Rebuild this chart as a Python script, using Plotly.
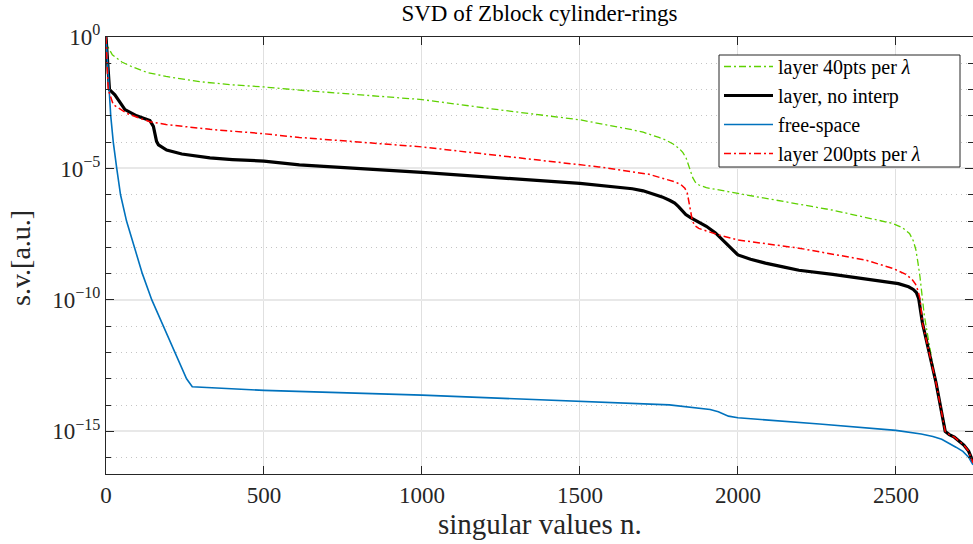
import plotly.graph_objects as go

# ---- data; singular values given as log10 exponents ----
n_green = [0, 5, 20, 50, 84, 130, 190, 296, 400, 500, 612, 800, 1000, 1245, 1500, 1666, 1700,
           1750, 1772, 1795, 1814, 1826, 1836, 1843, 1850, 1857, 1865, 1877, 1900, 1950, 2000,
           2298, 2400, 2490, 2520, 2543, 2555, 2563, 2570, 2576, 2590, 2611, 2632, 2659, 2669,
           2685, 2701, 2715, 2730, 2744]
log_green = [0.0, -0.35, -0.68, -0.95, -1.14, -1.35, -1.5, -1.7, -1.82, -1.9, -2.02, -2.2,
             -2.38, -2.77, -3.15, -3.53, -3.62, -3.82, -3.92, -4.07, -4.24, -4.4, -4.6, -4.85,
             -5.12, -5.35, -5.52, -5.63, -5.73, -5.85, -5.95, -6.58, -6.85, -7.09, -7.25,
             -7.47, -7.75, -8.08, -8.6, -9.1, -10.6, -12.15, -13.55, -15.04, -15.12, -15.22,
             -15.38, -15.52, -15.75, -16.15]

n_black = [0, 3, 5, 11, 28, 60, 97, 120, 139, 150, 155, 160, 166, 192, 240, 329, 400, 500, 612,
           1000, 1500, 1600, 1666, 1700, 1730, 1760, 1785, 1800, 1812, 1822, 1835, 1850, 1876,
           1900, 1929, 1950, 1971, 1985, 2000, 2040, 2087, 2150, 2193, 2300, 2403, 2508, 2540,
           2555, 2565, 2572, 2584, 2600, 2627, 2656, 2669, 2685, 2701, 2715, 2730, 2744]
log_black = [0.0, -0.6, -1.25, -2.0, -2.2, -2.76, -3.0, -3.1, -3.18, -3.4, -3.75, -3.97, -4.1,
             -4.3, -4.45, -4.6, -4.66, -4.72, -4.86, -5.15, -5.57, -5.68, -5.77, -5.85,
             -5.95, -6.08, -6.22, -6.32, -6.45, -6.6, -6.75, -6.87, -7.05, -7.2, -7.45, -7.7,
             -7.98, -8.15, -8.29, -8.45, -8.6, -8.76, -8.87, -9.03, -9.19, -9.38, -9.5, -9.6,
             -9.72, -9.94, -10.88, -11.77, -13.15, -15.0, -15.12, -15.22, -15.38, -15.52,
             -15.75, -16.15]

n_blue = [0, 4, 10, 15, 23, 34, 46, 65, 90, 115, 145, 182, 218, 255, 273, 500, 1000, 1500,
          1783, 1912, 1938, 1970, 2000, 2258, 2500, 2580, 2617, 2645, 2669, 2690, 2712, 2730,
          2744]
log_blue = [0.0, -1.0, -2.0, -3.0, -4.0, -5.0, -6.0, -7.0, -8.0, -9.0, -10.0, -11.0, -12.0,
            -13.0, -13.3, -13.44, -13.62, -13.86, -13.99, -14.17, -14.25, -14.42, -14.48,
            -14.72, -14.96, -15.1, -15.19, -15.3, -15.45, -15.6, -15.76, -15.98, -16.27]

n_red = [0, 5, 7, 23, 65, 105, 139, 190, 329, 500, 612, 1000, 1500, 1560, 1718, 1803, 1820,
         1832, 1840, 1846, 1851, 1856, 1864, 1876, 1940, 2000, 2193, 2403, 2490, 2530, 2550,
         2562, 2570, 2577, 2584, 2600, 2627, 2656, 2669, 2685, 2701, 2715, 2730, 2744]
log_red = [0.0, -1.5, -2.0, -2.57, -2.9, -3.08, -3.22, -3.33, -3.51, -3.68, -3.82, -4.18,
           -4.88, -4.94, -5.22, -5.52, -5.62, -5.75, -5.95, -6.3, -6.7, -7.0, -7.18, -7.28,
           -7.53, -7.72, -8.03, -8.48, -8.8, -9.02, -9.2, -9.4, -9.65, -10.0, -10.88, -11.77,
           -13.15, -15.0, -15.12, -15.22, -15.38, -15.52, -15.75, -16.2]

x_ticks = [0, 500, 1000, 1500, 2000, 2500]
y_major = [1e0, 1e-5, 1e-10, 1e-15]
y_major_text = ["10<sup>0</sup>", "10<sup>−5</sup>", "10<sup>−10</sup>", "10<sup>−15</sup>"]
y_minor = [10.0 ** (-k) for k in range(1, 17) if k % 5 != 0]

names = ["layer 40pts per <i>λ</i>", "layer, no interp", "free-space",
         "layer 200pts per <i>λ</i>"]
title_text = "SVD of Zblock cylinder-rings"
x_title = "singular values n."
y_title = "s.v.[a.u.]"


def to_sv(logs):
    return [10.0 ** v for v in logs]


FONT = "Liberation Serif"
AXC = "#262626"

# plot-area geometry in pixels (for paper-coordinate placement)
L, T, W, H = 106, 37, 867, 437


def px_x(p):
    return (p - L) / W


def px_y(p):
    return (T + H - p) / H


fig = go.Figure()
fig.add_trace(go.Scatter(x=n_green, y=to_sv(log_green), mode="lines", name=names[0],
                         line=dict(color="#5ed100", width=1.3, dash="7px,3px,2px,3px")))
fig.add_trace(go.Scatter(x=n_black, y=to_sv(log_black), mode="lines", name=names[1],
                         line=dict(color="#000000", width=3.2)))
fig.add_trace(go.Scatter(x=n_blue, y=to_sv(log_blue), mode="lines", name=names[2],
                         line=dict(color="#0072BD", width=1.6)))
fig.add_trace(go.Scatter(x=n_red, y=to_sv(log_red), mode="lines", name=names[3],
                         line=dict(color="#ff0000", width=1.5, dash="7px,3px,2px,3px")))

fig.update_layout(
    width=973, height=544,
    margin=dict(l=L, r=973 - L - W, t=T, b=544 - T - H),
    paper_bgcolor="white", plot_bgcolor="white",
    font=dict(family=FONT, color=AXC, size=23),
    title=dict(text=title_text, x=0.5, xref="paper", xanchor="center",
               y=1 - 13 / 544, yref="container", yanchor="middle",
               font=dict(family=FONT, size=23, color="#000000")),
    showlegend=True,
    legend=dict(x=px_x(719), y=px_y(47), xanchor="left", yanchor="top",
                bgcolor="rgba(0,0,0,0)", borderwidth=0,
                font=dict(family=FONT, size=20, color="#000000"),
                tracegroupgap=0, itemwidth=49),
    shapes=[
        dict(type="rect", xref="paper", yref="paper", layer="above",
             x0=px_x(719), x1=px_x(960), y0=px_y(167), y1=px_y(55),
             fillcolor="white", line=dict(color=AXC, width=1)),
    ],
    annotations=[
        dict(text=x_title, xref="paper", yref="paper", x=0.5, y=-50 / H,
             xanchor="center", yanchor="middle", showarrow=False,
             font=dict(family=FONT, size=29, color=AXC)),
        dict(text=y_title, xref="paper", yref="paper", x=-86 / W, y=px_y(258),
             xanchor="center", yanchor="middle", showarrow=False, textangle=-90,
             font=dict(family=FONT, size=28, color=AXC)),
    ],
)

fig.update_xaxes(
    range=[0, 2744], tickvals=x_ticks, ticktext=[str(v) for v in x_ticks],
    ticks="inside", ticklen=8, tickcolor=AXC, tickwidth=1, automargin=False,
    showline=True, linecolor=AXC, linewidth=1, mirror="ticks",
    showgrid=True, gridcolor="#e0e0e0", gridwidth=1, zeroline=False,
    tickfont=dict(family=FONT, size=23, color=AXC),
)
fig.update_yaxes(
    type="log", range=[-16.62, 0], automargin=False,
    tickvals=y_major, ticktext=y_major_text,
    ticks="inside", ticklen=8, tickcolor=AXC, tickwidth=1,
    showline=True, linecolor=AXC, linewidth=1, mirror="ticks",
    showgrid=True, gridcolor="#e8e8e8", gridwidth=2, zeroline=False,
    tickfont=dict(family=FONT, size=23, color=AXC),
    minor=dict(tickvals=y_minor, ticks="inside", ticklen=5, tickcolor=AXC,
               showgrid=True, gridcolor="#c4c4c4", griddash="1px,4px", gridwidth=1),
)

fig.write_html(
    "out.html",
    config={"displayModeBar": False},
    post_script="document.body.style.margin='0';document.body.style.overflow='hidden';",
)
